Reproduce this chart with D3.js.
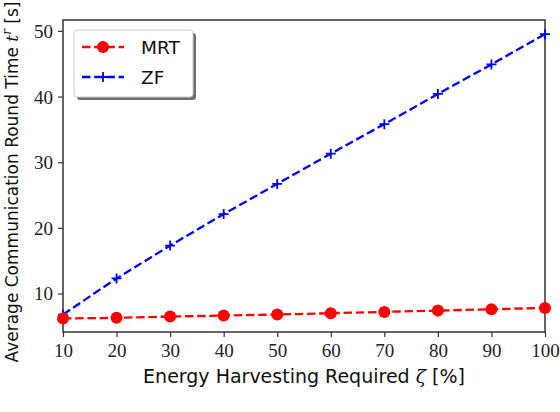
<!DOCTYPE html>
<html><head><meta charset="utf-8">
<script src="https://cdn.jsdelivr.net/npm/d3@7"></script>
<style>body{margin:0;background:#fff}svg{display:block}</style>
</head><body>
<svg id="c" width="560" height="412"></svg>
<script>
const zeta = [10,20,30,40,50,60,70,80,90,100];
const mrt = [6.2,6.3,6.5,6.65,6.8,7.0,7.2,7.4,7.6,7.8];
const zf = [6.8,12.3,17.3,22.1,26.7,31.3,35.8,40.4,44.9,49.5];
const xTicks = [10,20,30,40,50,60,70,80,90,100];
const yTicks = [10,20,30,40,50];

const svg = d3.select("#c");
const m = {l:63, r:545, t:20, b:332};
const x = d3.scaleLinear().domain([10,100]).range([m.l,m.r]);
const y = d3.scaleLinear().domain([4.14,51.66]).range([m.b,m.t]);
const axisCol = "#333";
const tickFont = "'Liberation Serif', serif";
const labFont = "'DejaVu Sans', sans-serif";

const gx = svg.append("g").attr("transform",`translate(0,${m.b})`)
  .call(d3.axisBottom(x).tickValues(xTicks).tickSize(5).tickPadding(6.5).tickFormat(d3.format("d")));
const gy = svg.append("g").attr("transform",`translate(${m.l},0)`)
  .call(d3.axisLeft(y).tickValues(yTicks).tickSize(5).tickPadding(5).tickFormat(d3.format("d")));
[gx,gy].forEach(g=>{
  g.select(".domain").remove();
  g.selectAll("line").attr("stroke",axisCol).attr("stroke-width",1.2);
  g.selectAll("text").attr("font-family",tickFont).attr("font-size",19).attr("fill","#222");
});
gy.selectAll("text").attr("dy","0.34em");
// frame
svg.append("rect").attr("x",m.l).attr("y",m.t).attr("width",m.r-m.l).attr("height",m.b-m.t)
  .attr("fill","none").attr("stroke",axisCol).attr("stroke-width",1.5);

const line = d3.line().x((d,i)=>x(zeta[i])).y(d=>y(d));
svg.append("path").datum(zf).attr("d",line).attr("fill","none").attr("stroke","#0000ff")
  .attr("stroke-width",2.3).attr("stroke-dasharray","8.5,3.7");
svg.selectAll(".zfm").data(zf).join("path").attr("class","zfm")
  .attr("d",(d,i)=>{const cx=x(zeta[i]),cy=y(d),s=5;return `M${cx-s},${cy}H${cx+s}M${cx},${cy-s}V${cy+s}`;})
  .attr("stroke","#0000ff").attr("stroke-width",1.8);
svg.append("path").datum(mrt).attr("d",line).attr("fill","none").attr("stroke","#ff0000")
  .attr("stroke-width",2.3).attr("stroke-dasharray","8.5,3.7");
svg.selectAll(".mrtm").data(mrt).join("circle").attr("class","mrtm")
  .attr("cx",(d,i)=>x(zeta[i])).attr("cy",d=>y(d)).attr("r",6).attr("fill","#ff0000");

// legend
const lg = svg.append("g");
lg.append("rect").attr("x",77).attr("y",33).attr("width",119).attr("height",67).attr("rx",3).attr("fill","#555").attr("opacity",0.85);
lg.append("rect").attr("x",74).attr("y",30).attr("width",119).attr("height",67).attr("rx",3).attr("fill","#fff").attr("stroke","#ccc").attr("stroke-width",1);
const items = [{n:"MRT",c:"#ff0000",t:"c",yy:47},{n:"ZF",c:"#0000ff",t:"p",yy:77}];
items.forEach(it=>{
  lg.append("line").attr("x1",82).attr("x2",124).attr("y1",it.yy).attr("y2",it.yy)
    .attr("stroke",it.c).attr("stroke-width",2.3).attr("stroke-dasharray","8.5,3.7");
  if(it.t==="c") lg.append("circle").attr("cx",103).attr("cy",it.yy).attr("r",6).attr("fill",it.c);
  else lg.append("path").attr("d",`M98,${it.yy}H108M103,${it.yy-5}V${it.yy+5}`).attr("stroke",it.c).attr("stroke-width",1.8);
  lg.append("text").attr("x",141).attr("y",it.yy+6.5).attr("font-family",labFont).attr("font-size",18.5).attr("fill","#111").text(it.n);
});

// axis labels
svg.append("text").attr("x",(m.l+m.r)/2).attr("y",383).attr("text-anchor","middle")
  .attr("font-family",labFont).attr("font-size",19).attr("fill","#111")
  .html("Energy Harvesting Required <tspan font-family=\"'DejaVu Serif', serif\" font-style=\"italic\">ζ</tspan> [%]");
svg.append("text").attr("transform",`translate(17.5,182) rotate(-90)`).attr("text-anchor","middle")
  .attr("font-family",labFont).attr("font-size",17).attr("fill","#111")
  .html("Average Communication Round Time <tspan font-family=\"'DejaVu Serif', serif\" font-style=\"italic\">t</tspan><tspan font-family=\"'DejaVu Serif', serif\" font-style=\"italic\" font-size=\"12\" dy=\"-7\">r</tspan><tspan dy=\"7\"> [s]</tspan>");
</script>
</body></html>
